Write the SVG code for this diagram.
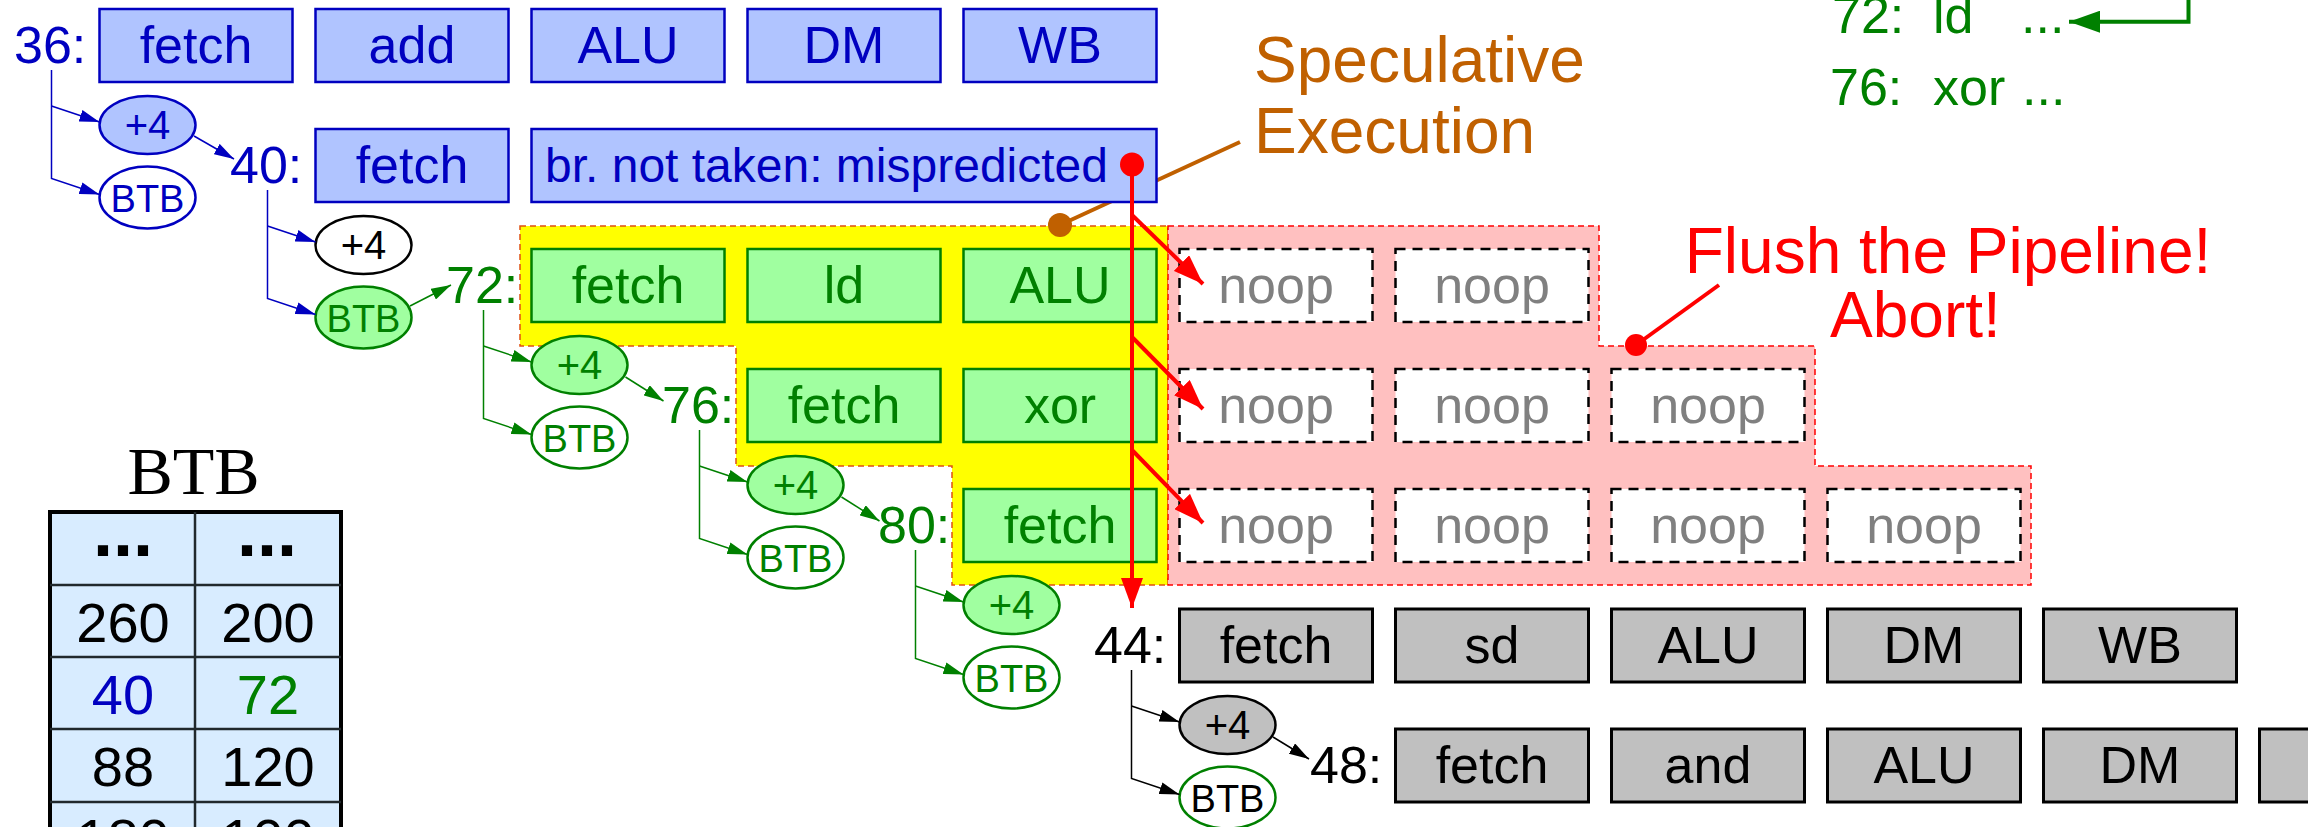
<svg xmlns="http://www.w3.org/2000/svg" width="2323" height="827" viewBox="0 0 2323 827">
<defs>
<style>
text{font-family:"Liberation Sans",Arial,Helvetica,sans-serif}
.bx text{font-size:52px;text-anchor:middle}
.blue rect{fill:#b0c4ff;stroke:#0000c0;stroke-width:2.5}
.blue text{fill:#0000c0}
.green rect{fill:#a0ffa0;stroke:#008000;stroke-width:2.5}
.green text{fill:#008000}
.grey rect{fill:#c0c0c0;stroke:#000;stroke-width:3}
.grey text{fill:#000}
.noop rect{fill:#fff;stroke:#000;stroke-width:2.5;stroke-dasharray:10 7}
.noop text{fill:#808080}
.lbl{font-size:52px}
.el text{text-anchor:middle}
.p4{font-size:40px}
.btb{font-size:38px}
.cb{fill:none;stroke:#0000c0;stroke-width:1.5}
.cg{fill:none;stroke:#008000;stroke-width:1.5}
.ck{fill:none;stroke:#000;stroke-width:1.5}
.tbl text{font-size:56px;text-anchor:middle}
</style>
<marker id="ab" markerUnits="userSpaceOnUse" markerWidth="20" markerHeight="12" refX="20" refY="6" orient="auto"><path d="M0,0L20,6L0,12z" fill="#0000c0"/></marker>
<marker id="ag" markerUnits="userSpaceOnUse" markerWidth="20" markerHeight="12" refX="20" refY="6" orient="auto"><path d="M0,0L20,6L0,12z" fill="#008000"/></marker>
<marker id="ak" markerUnits="userSpaceOnUse" markerWidth="20" markerHeight="12" refX="20" refY="6" orient="auto"><path d="M0,0L20,6L0,12z" fill="#000"/></marker>
<marker id="ar" markerUnits="userSpaceOnUse" markerWidth="30" markerHeight="22" refX="30" refY="11" orient="auto"><path d="M0,0L30,11L0,22z" fill="#ff0000"/></marker>
<marker id="agb" markerUnits="userSpaceOnUse" markerWidth="31" markerHeight="22" refX="31" refY="11" orient="auto"><path d="M0,0L31,11L0,22z" fill="#008000"/></marker>
</defs>
<rect width="2323" height="827" fill="#fff"/>

<g id="speculative-region">
<polygon points="520,226 1168,226 1168,585 952,585 952,466 736,466 736,346 520,346" fill="#ffff00" stroke="#e05010" stroke-width="1.5" stroke-dasharray="6 4"/>
</g>
<g id="flush-region">
<polygon points="1168,226 1599,226 1599,346 1815,346 1815,466 2031,466 2031,585 1168,585" fill="#ffc0c0" stroke="#ff0000" stroke-width="1.5" stroke-dasharray="6 4"/>
</g>

<g id="speculative-note">
<line x1="1240" y1="142" x2="1060" y2="225" stroke="#c06000" stroke-width="4"/>
<circle cx="1060" cy="225" r="12" fill="#c06000"/>
<text x="1254" y="82" font-size="64" fill="#c06000">Speculative</text>
<text x="1254" y="153" font-size="64" fill="#c06000">Execution</text>
</g>

<g id="flush-note">
<line x1="1719" y1="285" x2="1636" y2="345" stroke="#ff0000" stroke-width="4"/>
<circle cx="1636" cy="345" r="11" fill="#ff0000"/>
<text x="1948" y="273" font-size="64" fill="#ff0000" text-anchor="middle">Flush the Pipeline!</text>
<text x="1830" y="337" font-size="64" fill="#ff0000">Abort!</text>
</g>

<g id="instr-36" class="bx blue">
<text class="lbl" x="14" y="63" style="text-anchor:start">36:</text>
<rect x="99.5" y="9" width="193" height="73"/><text x="196" y="63">fetch</text>
<rect x="315.5" y="9" width="193" height="73"/><text x="412" y="63">add</text>
<rect x="531.5" y="9" width="193" height="73"/><text x="628" y="63">ALU</text>
<rect x="747.5" y="9" width="193" height="73"/><text x="844" y="63">DM</text>
<rect x="963.5" y="9" width="193" height="73"/><text x="1060" y="63">WB</text>
</g>

<g id="instr-40" class="bx blue">
<text class="lbl" x="230" y="183" style="text-anchor:start">40:</text>
<rect x="315.5" y="129" width="193" height="73"/><text x="412" y="183">fetch</text>
<rect x="531.5" y="129" width="625" height="73"/><text x="545" y="182" style="text-anchor:start;font-size:48px">br. not taken: mispredicted</text>
</g>

<g id="instr-72" class="bx green">
<text class="lbl" x="446" y="303" style="text-anchor:start">72:</text>
<rect x="531.5" y="249" width="193" height="73"/><text x="628" y="303">fetch</text>
<rect x="747.5" y="249" width="193" height="73"/><text x="844" y="303">ld</text>
<rect x="963.5" y="249" width="193" height="73"/><text x="1060" y="303">ALU</text>
</g>
<g id="noop-72" class="bx noop">
<rect x="1179.5" y="249" width="193" height="73"/><text x="1276" y="303">noop</text>
<rect x="1395.5" y="249" width="193" height="73"/><text x="1492" y="303">noop</text>
</g>

<g id="instr-76" class="bx green">
<text class="lbl" x="662" y="423" style="text-anchor:start">76:</text>
<rect x="747.5" y="369" width="193" height="73"/><text x="844" y="423">fetch</text>
<rect x="963.5" y="369" width="193" height="73"/><text x="1060" y="423">xor</text>
</g>
<g id="noop-76" class="bx noop">
<rect x="1179.5" y="369" width="193" height="73"/><text x="1276" y="423">noop</text>
<rect x="1395.5" y="369" width="193" height="73"/><text x="1492" y="423">noop</text>
<rect x="1611.5" y="369" width="193" height="73"/><text x="1708" y="423">noop</text>
</g>

<g id="instr-80" class="bx green">
<text class="lbl" x="878" y="543" style="text-anchor:start">80:</text>
<rect x="963.5" y="489" width="193" height="73"/><text x="1060" y="543">fetch</text>
</g>
<g id="noop-80" class="bx noop">
<rect x="1179.5" y="489" width="193" height="73"/><text x="1276" y="543">noop</text>
<rect x="1395.5" y="489" width="193" height="73"/><text x="1492" y="543">noop</text>
<rect x="1611.5" y="489" width="193" height="73"/><text x="1708" y="543">noop</text>
<rect x="1827.5" y="489" width="193" height="73"/><text x="1924" y="543">noop</text>
</g>

<g id="instr-44" class="bx grey">
<text class="lbl" x="1094" y="663" style="text-anchor:start">44:</text>
<rect x="1179.5" y="609" width="193" height="73"/><text x="1276" y="663">fetch</text>
<rect x="1395.5" y="609" width="193" height="73"/><text x="1492" y="663">sd</text>
<rect x="1611.5" y="609" width="193" height="73"/><text x="1708" y="663">ALU</text>
<rect x="1827.5" y="609" width="193" height="73"/><text x="1924" y="663">DM</text>
<rect x="2043.5" y="609" width="193" height="73"/><text x="2140" y="663">WB</text>
</g>

<g id="instr-48" class="bx grey">
<text class="lbl" x="1310" y="783" style="text-anchor:start">48:</text>
<rect x="1395.5" y="729" width="193" height="73"/><text x="1492" y="783">fetch</text>
<rect x="1611.5" y="729" width="193" height="73"/><text x="1708" y="783">and</text>
<rect x="1827.5" y="729" width="193" height="73"/><text x="1924" y="783">ALU</text>
<rect x="2043.5" y="729" width="193" height="73"/><text x="2140" y="783">DM</text>
<path d="M2308,729H2259.5V802H2308z" fill="#c0c0c0"/>
<path d="M2308,729H2259.5V802H2308" fill="none" stroke="#000" stroke-width="3"/>
</g>

<g id="pc-36" class="el">
<ellipse cx="147.5" cy="125" rx="48" ry="29" fill="#b0c4ff" stroke="#0000c0" stroke-width="2.5"/>
<text class="p4" x="147.5" y="139" fill="#0000c0">+4</text>
<ellipse cx="147.5" cy="197.5" rx="48" ry="31" fill="#fff" stroke="#0000c0" stroke-width="2.5"/>
<text class="btb" x="147.5" y="211.5" fill="#0000c0">BTB</text>
</g>
<g id="pc-40" class="el">
<ellipse cx="363.5" cy="245" rx="48" ry="29" fill="#fff" stroke="#000" stroke-width="2.5"/>
<text class="p4" x="363.5" y="259" fill="#000">+4</text>
<ellipse cx="363.5" cy="317.5" rx="48" ry="31" fill="#a0ffa0" stroke="#008000" stroke-width="2.5"/>
<text class="btb" x="363.5" y="331.5" fill="#008000">BTB</text>
</g>
<g id="pc-72" class="el">
<ellipse cx="579.5" cy="365" rx="48" ry="29" fill="#a0ffa0" stroke="#008000" stroke-width="2.5"/>
<text class="p4" x="579.5" y="379" fill="#008000">+4</text>
<ellipse cx="579.5" cy="437.5" rx="48" ry="31" fill="#fff" stroke="#008000" stroke-width="2.5"/>
<text class="btb" x="579.5" y="451.5" fill="#008000">BTB</text>
</g>
<g id="pc-76" class="el">
<ellipse cx="795.5" cy="485" rx="48" ry="29" fill="#a0ffa0" stroke="#008000" stroke-width="2.5"/>
<text class="p4" x="795.5" y="499" fill="#008000">+4</text>
<ellipse cx="795.5" cy="557.5" rx="48" ry="31" fill="#fff" stroke="#008000" stroke-width="2.5"/>
<text class="btb" x="795.5" y="571.5" fill="#008000">BTB</text>
</g>
<g id="pc-80" class="el">
<ellipse cx="1011.5" cy="605" rx="48" ry="29" fill="#a0ffa0" stroke="#008000" stroke-width="2.5"/>
<text class="p4" x="1011.5" y="619" fill="#008000">+4</text>
<ellipse cx="1011.5" cy="677.5" rx="48" ry="31" fill="#fff" stroke="#008000" stroke-width="2.5"/>
<text class="btb" x="1011.5" y="691.5" fill="#008000">BTB</text>
</g>
<g id="pc-44" class="el">
<ellipse cx="1227.5" cy="725" rx="48" ry="29" fill="#c0c0c0" stroke="#000" stroke-width="2.5"/>
<text class="p4" x="1227.5" y="739" fill="#000">+4</text>
<ellipse cx="1227.5" cy="797.5" rx="48" ry="31" fill="#fff" stroke="#008000" stroke-width="2.5"/>
<text class="btb" x="1227.5" y="811.5" fill="#000">BTB</text>
</g>

<g id="connectors">
<path class="cb" d="M51.5,70V178.5L99.5,194.5" marker-end="url(#ab)"/>
<path class="cb" d="M51.5,106L99.5,122" marker-end="url(#ab)"/>
<path class="cb" d="M194,136L234,159" marker-end="url(#ab)"/>
<path class="cb" d="M267.5,190V298.5L315.5,314.5" marker-end="url(#ab)"/>
<path class="cb" d="M267.5,226L315.5,242" marker-end="url(#ab)"/>
<path class="cg" d="M410,306L451,285" marker-end="url(#ag)"/>
<path class="cg" d="M483.5,310V418.5L531.5,434.5" marker-end="url(#ag)"/>
<path class="cg" d="M483.5,346L531.5,362" marker-end="url(#ag)"/>
<path class="cg" d="M625.5,377L663.5,401" marker-end="url(#ag)"/>
<path class="cg" d="M699.5,430V538.5L747.5,554.5" marker-end="url(#ag)"/>
<path class="cg" d="M699.5,466L747.5,482" marker-end="url(#ag)"/>
<path class="cg" d="M841.5,497L879.5,521" marker-end="url(#ag)"/>
<path class="cg" d="M915.5,550V658.5L963.5,674.5" marker-end="url(#ag)"/>
<path class="cg" d="M915.5,586L963.5,602" marker-end="url(#ag)"/>
<path class="ck" d="M1131.5,670V778.5L1179.5,794.5" marker-end="url(#ak)"/>
<path class="ck" d="M1131.5,706L1179.5,722" marker-end="url(#ak)"/>
<path class="ck" d="M1273,737L1309,759" marker-end="url(#ak)"/>
<path d="M2188.5,-3V21.7H2069" fill="none" stroke="#008000" stroke-width="4" marker-end="url(#agb)"/>
<circle cx="1132" cy="164.5" r="12" fill="#ff0000"/>
<line x1="1132" y1="164" x2="1132" y2="608" stroke="#ff0000" stroke-width="4" marker-end="url(#ar)"/>
<line x1="1132" y1="215" x2="1203" y2="284" stroke="#ff0000" stroke-width="4" marker-end="url(#ar)"/>
<line x1="1132" y1="337" x2="1203" y2="409" stroke="#ff0000" stroke-width="4" marker-end="url(#ar)"/>
<line x1="1132" y1="450" x2="1203" y2="523" stroke="#ff0000" stroke-width="4" marker-end="url(#ar)"/>
</g>

<g id="code-listing" fill="#008000" font-size="52">
<text x="1832" y="33">72:</text><text x="1933" y="33">ld</text><text x="2021" y="33">...</text>
<text x="1830" y="105">76:</text><text x="1933" y="105">xor</text><text x="2022" y="105">...</text>
</g>

<g id="btb-table" class="tbl">
<text x="193.5" y="494" style="font-family:'Liberation Serif','Times New Roman',serif;font-size:68px">BTB</text>
<rect x="50" y="512" width="291" height="340" fill="#d8ecff" stroke="#000" stroke-width="4"/>
<path d="M195,512V827M50,585H341M50,657H341M50,729H341M50,802H341" stroke="#20282c" stroke-width="2.5" fill="none"/>
<text x="123" y="556" style="font-weight:bold;font-size:72px">...</text>
<text x="267" y="556" style="font-weight:bold;font-size:72px">...</text>
<text x="123" y="642">260</text><text x="268" y="642">200</text>
<text x="123" y="714" fill="#0000c0">40</text><text x="268" y="714" fill="#008000">72</text>
<text x="123" y="786">88</text><text x="268" y="786">120</text>
<text x="123" y="858">180</text><text x="268" y="858">100</text>
</g>
</svg>
